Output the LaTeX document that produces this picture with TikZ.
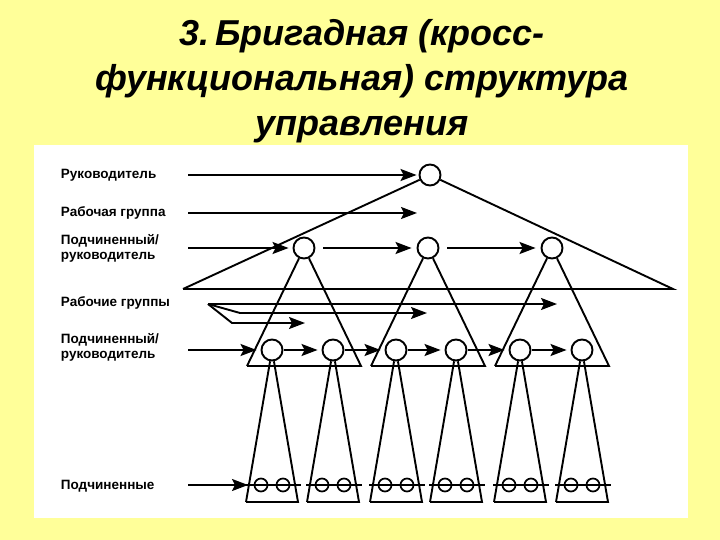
\documentclass[tikz,border=0pt]{standalone}
\usepackage{fontspec}
\setmainfont{Liberation Sans}
\usetikzlibrary{calc,positioning,arrows.meta}
\definecolor{slide}{RGB}{255,255,153}

\tikzset{
  person/.style={circle,draw,line width=1.9pt,minimum size=21pt,inner sep=0pt},
  member/.style={circle,draw,line width=1.7pt,minimum size=13pt,inner sep=0pt},
  flow/.style={line width=1.9pt,-{Stealth[length=16pt,width=12pt,inset=3pt]}},
  rowlabel/.style={anchor=west,align=left,inner sep=0pt,
    font=\fontsize{13.5}{15}\selectfont\bfseries},
}

\begin{document}
\begin{tikzpicture}[x=1pt,y=-1pt,line width=1.9pt,line join=miter]
    \useasboundingbox (0,0) rectangle (720,540);
    \fill[slide] (0,0) rectangle (720,540);
    \fill[white] (34,145) rectangle (688,518);

    \node[align=center,font=\fontsize{36}{45}\selectfont\bfseries\itshape] (title) at (362,81)
      {3.\,Бригадная (кросс-\\функциональная) структура\\управления};

    % row labels
    \node[rowlabel] (lboss) at (60,175) {Руководитель};
    \node[rowlabel] (lteam) at (60,213) {Рабочая группа};
    \node[rowlabel] (lmid) at (60,248) {Подчиненный/\\руководитель};
    \node[rowlabel] (lteams) at (60,303) {Рабочие группы};
    \node[rowlabel] (lsub) at (60,347) {Подчиненный/\\руководитель};
    \node[rowlabel] (lmem) at (60,486) {Подчиненные};

    \coordinate (s1) at (188,175);
    \coordinate (s2) at (188,213);
    \coordinate (s3) at (188,248);
    \coordinate (s5) at (188,350);
    \coordinate (s6) at (188,485);

    % top level
    \node[person] (boss) at (430,175) {};
    \coordinate (bigL) at (183,289);
    \coordinate (bigR) at (673,289);
    \draw (bigL) -- (boss) -- (bigR) -- (bigL);
    \draw[flow,shorten >=2pt] (s1) -- (boss);
    \coordinate (teamend) at (417,213);
    \draw[flow] (s2) -- (teamend);

    % middle managers
    \foreach \i/\x in {1/304,2/428,3/552}{
      \node[person] (mid\i) at (\x,248) {};
      \draw (\x-57,366) -- (mid\i) -- (\x+57,366) -- (\x-57,366);
    }
    \draw[flow,shorten >=4pt] (s3) -- (mid1);
    \draw[flow,shorten >=5pt,shorten <=8pt] (mid1) -- (mid2);
    \draw[flow,shorten >=5pt,shorten <=8pt] (mid2) -- (mid3);

    % working groups
    \coordinate (fan) at (208,304);
    \coordinate (fanA) at (557,304);
    \coordinate (fanB1) at (240,313);
    \coordinate (fanB) at (427,313);
    \coordinate (fanC1) at (232,323);
    \coordinate (fanC) at (305,323);
    \draw[flow] (fan) -- (fanA);
    \draw[flow] (fan) -- (fanB1) -- (fanB);
    \draw[flow] (fan) -- (fanC1) -- (fanC);

    % subordinates
    \foreach \j/\x in {1/272,2/333,3/396,4/456,5/520,6/582}{
      \node[person] (sub\j) at (\x,350) {};
      \draw (\x-26,502) -- (sub\j) -- (\x+26,502) -- (\x-26,502);
      \node[member] (m\j l) at (\x-11,485) {};
      \node[member] (m\j r) at (\x+11,485) {};
      \draw (\x-27,485) -- (\x+29,485);
    }
    \draw[flow,shorten >=4pt] (s5) -- (sub1);
    \foreach \j/\k in {1/2,2/3,3/4,4/5,5/6}{
      \draw[flow,shorten >=4pt,shorten <=1pt] (sub\j) -- (sub\k);
    }
    \coordinate (memend) at (248,485);
    \draw[flow] (s6) -- (memend);
\end{tikzpicture}
\end{document}
